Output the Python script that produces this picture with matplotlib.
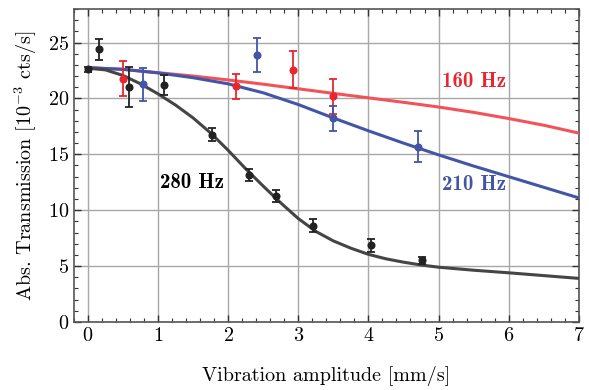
import matplotlib
matplotlib.use("Agg")
import matplotlib.pyplot as plt
from matplotlib.ticker import MultipleLocator

plt.rcParams['font.family'] = ['cmr10', 'DejaVu Serif']
plt.rcParams['mathtext.fontset'] = 'cm'
plt.rcParams['axes.formatter.use_mathtext'] = True

# measured points
x280 = [0.0, 0.16, 0.58, 1.08, 1.77, 2.30, 2.68, 3.21, 4.03, 4.77]
y280 = [22.6, 24.4, 21.0, 21.2, 16.75, 13.15, 11.25, 8.63, 6.86, 5.51]
e280 = [0.25, 0.95, 1.8, 0.9, 0.6, 0.55, 0.55, 0.6, 0.57, 0.33]

x160 = [0.505, 2.11, 2.92, 3.49]
y160 = [21.76, 21.1, 22.57, 20.2]
e160 = [1.55, 1.12, 1.68, 1.57]

x210 = [0.79, 2.41, 3.49, 4.70]
y210 = [21.25, 23.86, 18.22, 15.68]
e210 = [1.45, 1.53, 1.1, 1.37]

# fitted curves
cx280 = [0, 0.25, 0.5, 0.75, 1.0, 1.25, 1.5, 1.75, 2.0, 2.25, 2.5, 2.75, 3.0,
         3.25, 3.5, 3.75, 4.0, 4.25, 4.5, 4.75, 5.0, 5.5, 6.0, 6.5, 7.0]
cy280 = [22.7, 22.55, 22.05, 21.3, 20.4, 19.4, 18.25, 16.9, 15.35, 13.7, 12.15,
         10.65, 9.25, 8.1, 7.25, 6.6, 6.05, 5.65, 5.35, 5.1, 4.9, 4.63, 4.4,
         4.15, 3.9]

cx160 = [0, 0.5, 1.0, 1.5, 2.0, 2.5, 3.0, 3.5, 4.0, 4.5, 5.0, 5.5, 6.0, 6.5, 7.0]
cy160 = [22.75, 22.6, 22.3, 22.0, 21.65, 21.27, 20.86, 20.45, 20.05, 19.65,
         19.23, 18.75, 18.2, 17.6, 16.9]

cx210 = [0, 0.5, 1.0, 1.5, 2.0, 2.5, 3.0, 3.5, 4.0, 4.5, 5.0, 5.5, 6.0, 6.5, 7.0]
cy210 = [22.75, 22.6, 22.28, 21.85, 21.3, 20.5, 19.45, 18.25, 17.1, 16.0,
         14.95, 13.95, 13.0, 12.05, 11.1]

fig = plt.figure(figsize=(5.89, 3.90), dpi=100)
ax = fig.add_axes([0.1256, 0.1744, 0.857, 0.8026])

c_red_line = '#f25359'
c_red = '#e8262e'
c_blue = '#4255a6'
c_black_line = '#454545'
c_black = '#222222'

ax.plot(cx160, cy160, color=c_red_line, lw=2.2, zorder=3, solid_joinstyle='round')
ax.plot(cx210, cy210, color=c_blue, lw=2.2, zorder=3, solid_joinstyle='round')
ax.plot(cx280, cy280, color=c_black_line, lw=2.2, zorder=3, solid_joinstyle='round')

ekw = dict(fmt='o', ms=4.8, capsize=2.8, elinewidth=1.3, capthick=1.3, zorder=4)
ax.errorbar(x160, y160, yerr=e160, color=c_red, **ekw)
ax.errorbar(x210, y210, yerr=e210, color=c_blue, **ekw)
ax.errorbar(x280, y280, yerr=e280, color=c_black, **ekw)

ax.text(5.05, 21.5, '160 Hz', color=c_red, fontsize=15, fontfamily='cmb10',
        va='center', ha='left')
ax.text(5.05, 12.3, '210 Hz', color=c_blue, fontsize=15, fontfamily='cmb10',
        va='center', ha='left')
ax.text(1.03, 12.5, '280 Hz', color='black', fontsize=15, fontfamily='cmb10',
        va='center', ha='left')

ax.set_xlim(-0.2, 7.0)
ax.set_ylim(0, 28)
ax.xaxis.set_major_locator(MultipleLocator(1))
ax.xaxis.set_minor_locator(MultipleLocator(0.2))
ax.yaxis.set_major_locator(MultipleLocator(5))
ax.yaxis.set_minor_locator(MultipleLocator(1))
ax.grid(True, which='major', color='#a8a8a8', lw=1.0)
ax.set_axisbelow(True)
ax.tick_params(which='both', direction='in', top=True, right=True,
               colors='#333333', labelcolor='black', labelsize=14.5)
ax.tick_params(which='major', length=5, width=1)
ax.tick_params(which='minor', length=3, width=0.8)
for s in ax.spines.values():
    s.set_color('#555555')
    s.set_linewidth(1.2)

ax.set_xlabel('Vibration amplitude [mm/s]', fontsize=14.5, labelpad=15)
ax.set_ylabel('Abs. Transmission [$10^{-3}$ cts/s]', fontsize=14.5, labelpad=6)

fig.savefig('out.png', dpi=100)
